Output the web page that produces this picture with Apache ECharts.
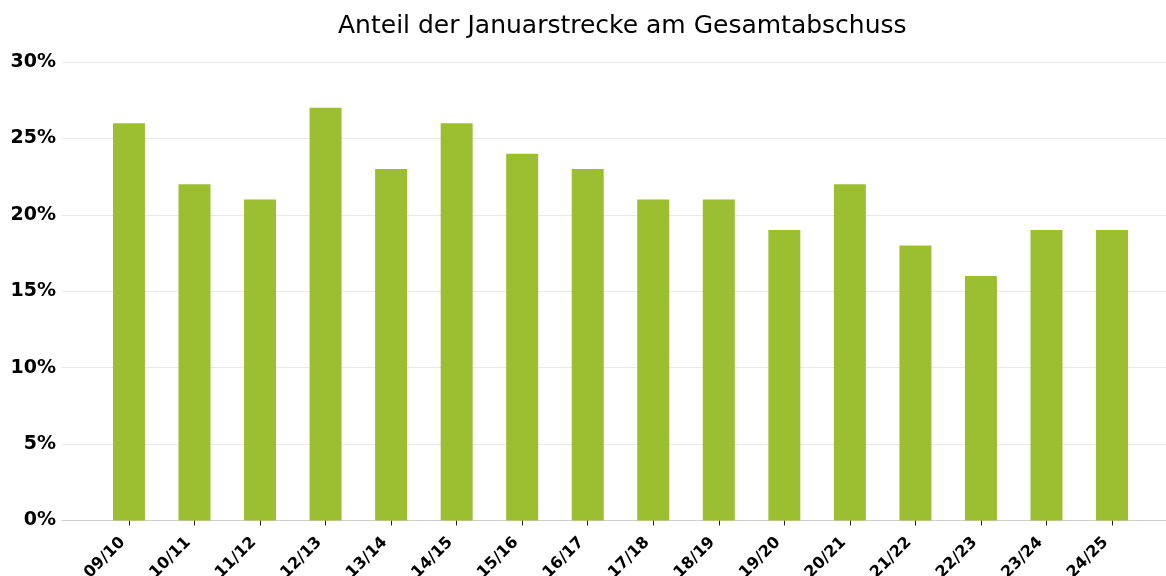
<!DOCTYPE html>
<html lang="de">
<head>
    <meta charset="UTF-8">
    <title>Anteil der Januarstrecke am Gesamtabschuss</title>
    <script src="https://cdn.jsdelivr.net/npm/echarts@6/dist/echarts.min.js"></script>
    <style>
        html, body { margin: 0; padding: 0; background: #fff; }
    </style>
</head>
<body>
    <div id="main" style="width: 1166px;height:576px;"></div>
    <script type="text/javascript">
        // Jagdjahre
        var seasons = ['09/10', '10/11', '11/12', '12/13', '13/14', '14/15', '15/16', '16/17',
            '17/18', '18/19', '19/20', '20/21', '21/22', '22/23', '23/24', '24/25'];
        // Anteil Januar am Gesamtabschuss (als Anteil von 1)
        var shares = [0.26, 0.22, 0.21, 0.27, 0.23, 0.26, 0.24, 0.23,
            0.21, 0.21, 0.19, 0.22, 0.18, 0.16, 0.19, 0.19];
        var yTicks = [0, 0.05, 0.10, 0.15, 0.20, 0.25, 0.30];

        var font = 'DejaVu Sans';
        var myChart = echarts.init(document.getElementById('main'));

        var option = {
            animation: false,
            title: {
                text: 'Anteil der Januarstrecke am Gesamtabschuss',
                left: 333,
                top: 9,
                textStyle: { fontFamily: font, fontSize: 25, fontWeight: 'normal', color: '#000' }
            },
            // grid 0: Gitterlinien und Achsenlinie über die volle Breite
            // grid 1: die Balken
            grid: [
                { left: 62, right: 0, top: 62, bottom: 55.5, outerBoundsMode: 'none' },
                { left: 96.2, right: 21.2, top: 62, bottom: 55.5, outerBoundsMode: 'none' }
            ],
            xAxis: [
                {
                    gridIndex: 0,
                    type: 'value',
                    min: 0,
                    max: 1,
                    axisLine: { show: true, lineStyle: { color: '#d0d0d0', width: 1 } },
                    axisTick: { show: false },
                    axisLabel: { show: false },
                    splitLine: { show: false }
                },
                {
                    gridIndex: 1,
                    type: 'category',
                    data: seasons,
                    axisLine: { show: false },
                    axisTick: { show: true, alignWithLabel: true, length: 5, lineStyle: { color: '#222' } },
                    axisLabel: {
                        rotate: 45,
                        interval: 0,
                        margin: 13,
                        padding: [0, 9, 0, 0],
                        fontFamily: font,
                        fontSize: 16,
                        fontWeight: 'bold',
                        color: '#000'
                    }
                }
            ],
            yAxis: [
                {
                    gridIndex: 0,
                    type: 'value',
                    min: yTicks[0],
                    max: yTicks[yTicks.length - 1],
                    interval: 0.05,
                    axisLine: { show: false },
                    axisTick: { show: false },
                    axisLabel: {
                        margin: 6,
                        fontFamily: font,
                        fontSize: 19,
                        fontWeight: 'bold',
                        color: '#000',
                        formatter: function (v) { return Math.round(v * 100) + '%'; }
                    },
                    splitLine: { show: true, lineStyle: { color: '#e8e8e8', width: 1 } }
                },
                {
                    gridIndex: 1,
                    type: 'value',
                    min: yTicks[0],
                    max: yTicks[yTicks.length - 1],
                    show: false,
                    splitLine: { show: false }
                }
            ],
            series: [
                {
                    name: 'Anteil',
                    type: 'bar',
                    xAxisIndex: 1,
                    yAxisIndex: 1,
                    barWidth: 32,
                    itemStyle: { color: '#9bbf31' },
                    data: shares
                }
            ]
        };

        myChart.setOption(option);
    </script>
</body>
</html>
